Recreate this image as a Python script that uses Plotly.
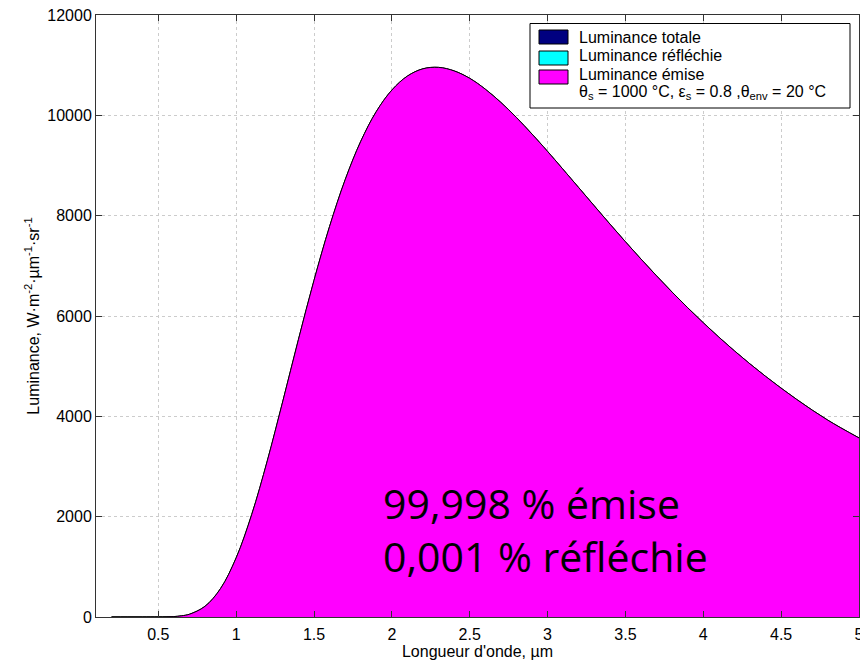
import plotly.graph_objects as go

wavelength = [0.2, 0.3, 0.4, 0.5, 0.55, 0.6, 0.65, 0.7, 0.8, 0.9, 1.0, 1.1, 1.2, 1.3, 1.4, 1.5, 1.6, 1.7, 1.8, 1.9,
              2.0, 2.1, 2.2, 2.3, 2.4, 2.5, 2.6, 2.7, 2.8, 2.9, 3.0, 3.2, 3.4, 3.6, 3.8, 4.0, 4.2, 4.4, 4.6, 4.8, 5.0]
emitted = [0, 0, 0, 0.5, 2.3, 8.1, 24, 55, 213, 568, 1178, 2043, 3113, 4305, 5531, 6711, 7785, 8715, 9480, 10075,
           10504, 10783, 10928, 10956, 10886, 10738, 10522, 10258, 9957, 9627, 9281, 8559, 7834, 7135, 6476, 5865,
           5305, 4797, 4337, 3923, 3570]
reflected = [0.0] * len(wavelength)
total = [e + r for e, r in zip(emitted, reflected)]

series_names = ["Luminance totale", "Luminance réfléchie", "Luminance émise"]
series_colors = ["#000080", "#00FFFF", "#FF00FF"]
legend_note = "θ<sub>s</sub> = 1000 °C, ε<sub>s</sub> = 0.8 ,θ<sub>env</sub> = 20 °C"
x_ticks = [0.5, 1, 1.5, 2, 2.5, 3, 3.5, 4, 4.5, 5]
y_ticks = [0, 2000, 4000, 6000, 8000, 10000, 12000]

W, H = 860, 664
L, R, T, B = 96, 1, 15, 47
PW, PH = W - L - R, H - T - B


def px(xp):
    return (xp - L) / PW


def py(yp):
    return (H - B - yp) / PH


font = "Liberation Sans, Arial, sans-serif"
fig = go.Figure()
for vals, name, col in zip([total, reflected, emitted], series_names, series_colors):
    fig.add_trace(go.Scatter(x=wavelength, y=vals, mode="lines",
                             line=dict(color="black", width=1, shape="spline"),
                             fill="tozeroy", fillcolor=col, name=name, showlegend=False))

fig.add_annotation(x=1.93, y=1750, xref="x", yref="y", xanchor="left", yanchor="middle", showarrow=False,
                   align="left", text="99,998 % émise<br>0,001 % réfléchie",
                   font=dict(family="Open Sans, sans-serif", size=41, color="black"))

# legend box drawn manually
fig.add_shape(type="rect", xref="paper", yref="paper", x0=px(530), x1=px(850), y0=py(108), y1=py(23.5),
              line=dict(color="black", width=1), fillcolor="white", layer="above")
sw_top = [30, 51, 70]
text_y = [37, 55.5, 74.3]
for top, ty, name, col in zip(sw_top, text_y, series_names, series_colors):
    fig.add_shape(type="rect", xref="paper", yref="paper", x0=px(539), x1=px(568), y0=py(top + 14), y1=py(top),
                  line=dict(color="black", width=1), fillcolor=col, layer="above")
    fig.add_annotation(x=px(577), y=py(ty), xref="paper", yref="paper", xanchor="left", yanchor="middle",
                       showarrow=False, text=name, font=dict(family=font, size=16, color="black"))
fig.add_annotation(x=px(577), y=py(93), xref="paper", yref="paper", xanchor="left", yanchor="middle",
                   showarrow=False, text=legend_note, font=dict(family=font, size=16, color="black"))

axis_common = dict(showline=True, linecolor="#333333", linewidth=1, mirror="ticks", ticks="inside", ticklen=6,
                   tickcolor="#333333", showgrid=True, gridcolor="#cccccc", griddash="dot", gridwidth=1,
                   zeroline=False, automargin=False, ticklabeloverflow="allow",
                   tickfont=dict(family=font, size=16, color="black"))
fig.update_xaxes(range=[0.1, 5], tickvals=x_ticks, ticktext=[f"{v:g}" for v in x_ticks], ticklabelstandoff=3,
                 title=dict(text="Longueur d'onde, µm", font=dict(family=font, size=16, color="black"), standoff=0),
                 **axis_common)
fig.update_yaxes(range=[0, 12000], tickvals=y_ticks, ticktext=[str(v) for v in y_ticks],
                 title=dict(text="Luminance, W·m<sup>-2</sup>·µm<sup>-1</sup>·sr<sup>-1</sup>",
                            font=dict(family=font, size=16, color="black"), standoff=3),
                 **axis_common)
fig.update_layout(width=W, height=H, margin=dict(l=L, r=R, t=T, b=B),
                  plot_bgcolor="white", paper_bgcolor="white", showlegend=False)
fig.write_html("out.html", config={"displayModeBar": False},
               post_script="document.body.style.margin='0';document.body.style.overflow='hidden';")
